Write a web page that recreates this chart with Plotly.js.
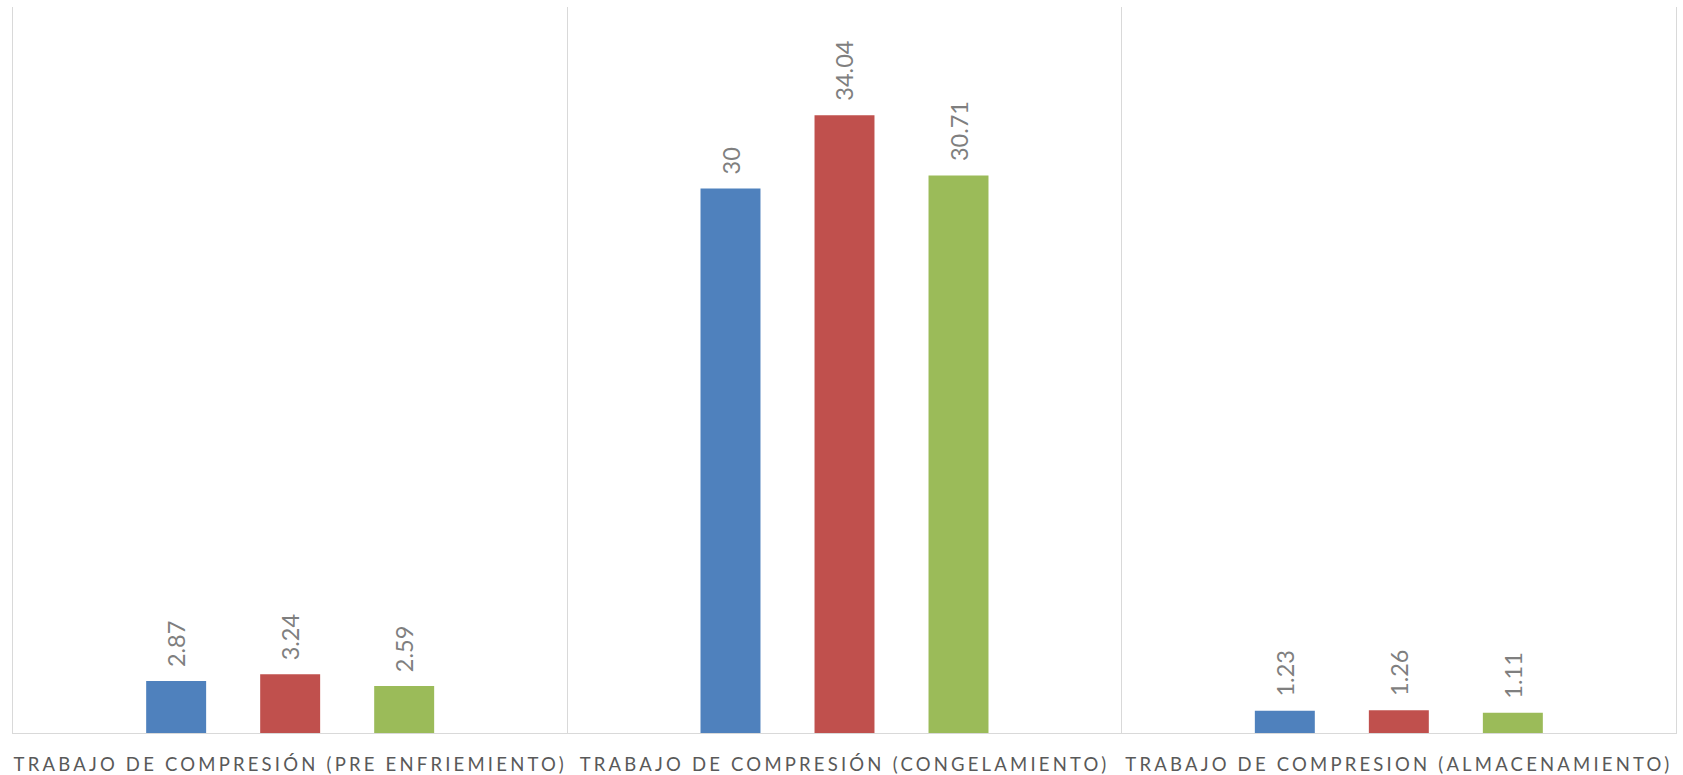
<!DOCTYPE html>
<html>
<head>
<meta charset="utf-8">
<script src="https://cdn.plot.ly/plotly-3.0.1.min.js"></script>
<style>
html,body{margin:0;padding:0;background:#fff;}
#chart{width:1683px;height:775px;}
.xtick text{letter-spacing:3.2px;}
</style>
</head>
<body>
<div id="chart"></div>
<script>
const categories = [
  "TRABAJO DE COMPRESIÓN (PRE ENFRIEMIENTO)",
  "TRABAJO DE COMPRESIÓN (CONGELAMIENTO)",
  "TRABAJO DE COMPRESION (ALMACENAMIENTO)"
];
const seriesNames = ["Serie 1", "Serie 2", "Serie 3"];
const serie1 = [2.87, 30, 1.23];
const serie2 = [3.24, 34.04, 1.26];
const serie3 = [2.59, 30.71, 1.11];
const colors = ["#4F81BD", "#C0504D", "#9BBB59"];

const allSeries = [serie1, serie2, serie3];
const traces = allSeries.map((vals, i) => ({
  type: "bar",
  name: seriesNames[i],
  x: categories,
  y: vals,
  marker: {color: colors[i]},
  hoverinfo: "x+y"
}));

const slotPx = 114;
const annotations = [];
allSeries.forEach((vals, i) => {
  vals.forEach((v, j) => {
    annotations.push({
      x: categories[j], y: v, xref: "x", yref: "y",
      text: String(v), showarrow: false, textangle: -90,
      xanchor: "center", yanchor: "bottom",
      xshift: (i - 1) * slotPx, yshift: 12,
      font: {family: "Lato, 'Liberation Sans', sans-serif", size: 23.5, color: "#7F7F7F"}
    });
  });
});

const layout = {
  width: 1683, height: 775,
  margin: {l: 13, r: 7, t: 7, b: 42},
  paper_bgcolor: "#ffffff", plot_bgcolor: "#ffffff",
  showlegend: false,
  barmode: "group",
  bargap: 0.383,
  bargroupgap: 0.474,
  xaxis: {
    type: "category",
    tickson: "boundaries",
    showgrid: true, gridcolor: "#D9D9D9", gridwidth: 1.3,
    showline: true, linecolor: "#D9D9D9", linewidth: 1.3,
    ticks: "", ticklen: 0,
    ticklabelstandoff: 14,
    tickfont: {family: "Lato, 'Liberation Sans', sans-serif", size: 18.5, color: "#595959"},
    zeroline: false, fixedrange: true
  },
  yaxis: {
    range: [0, 40],
    showgrid: false, zeroline: false,
    showline: true, mirror: true, linecolor: "#D9D9D9", linewidth: 1.3,
    showticklabels: false, ticks: "", fixedrange: true
  },
  annotations: annotations
};

Plotly.newPlot("chart", traces, layout, {displayModeBar: false, staticPlot: true});
</script>
</body>
</html>
